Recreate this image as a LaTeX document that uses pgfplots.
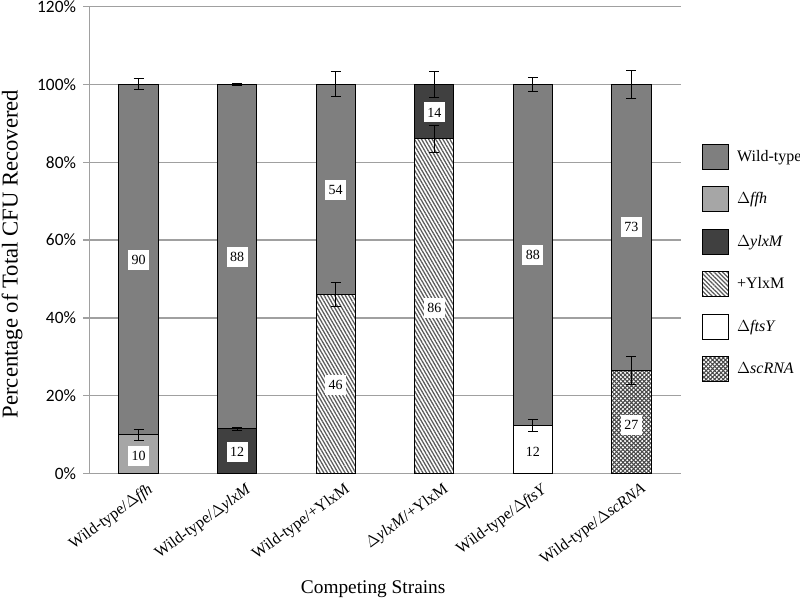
\documentclass[border=0pt]{standalone}
\usepackage{pgfplots}
\pgfplotsset{compat=1.18}
\usepackage{fontspec}
\setmainfont{Liberation Serif}
\newfontfamily\tickfont{Carlito}
\usetikzlibrary{patterns.meta}
\pgfdeclarepattern{name=scrna, type=uncolored,
  bottom left={\pgfpoint{-0.5pt}{-0.5pt}}, top right={\pgfpoint{3.7pt}{3.7pt}},
  tile size={\pgfpoint{3.2pt}{3.2pt}},
  code={\pgfsetlinewidth{0.75pt}
    \pgfpathmoveto{\pgfpoint{-0.5pt}{-0.5pt}}\pgfpathlineto{\pgfpoint{3.7pt}{3.7pt}}
    \pgfpathmoveto{\pgfpoint{-0.5pt}{3.7pt}}\pgfpathlineto{\pgfpoint{3.7pt}{-0.5pt}}
    \pgfusepath{stroke}}}
\definecolor{wt}{HTML}{7F7F7F}
\definecolor{ffh}{HTML}{A6A6A6}
\definecolor{ylx}{HTML}{404040}
\definecolor{hatchc}{HTML}{5A5A5A}
\definecolor{scr}{HTML}{4A4A4A}
\definecolor{gridc}{HTML}{A0A0A0}
\tikzset{
  wtS/.style={fill=wt, draw=black, line width=0.75pt},
  ffhS/.style={fill=ffh, draw=black, line width=0.75pt},
  ylxS/.style={fill=ylx, draw=black, line width=0.75pt},
  plusS/.style={fill=white, draw=black, line width=0.75pt, postaction={pattern={Lines[angle=-60,distance=2.3pt,line width=0.95pt]}, pattern color=hatchc}},
  plusL/.style={fill=white, draw=black, line width=0.75pt, postaction={pattern={Lines[angle=-45,distance=2.3pt,line width=0.95pt]}, pattern color=hatchc}},
  ftsS/.style={fill=white, draw=black, line width=0.75pt},
  scrS/.style={fill=white, draw=black, line width=0.75pt, postaction={pattern=scrna, pattern color=scr}},
}
\pgfplotsset{myleg/.style={legend image code/.code={\draw[##1] (0pt,-9.4pt) rectangle (19.5pt,9.4pt);}}}

\pgfplotstableread{
x ffh ylxb plus fts scr wt ylxt
0 10  0    0    0    0    90   0
1 0   11.5 0    0    0    88.5 0
2 0   0    46   0    0    54   0
3 0   0    86   0    0    0    14
4 0   0    0    12.3 0    87.7 0
5 0   0    0    0    26.6 73.4 0
}\stacktab

\pgfplotstableread{
x y lab
0 4.6 10
0 55 90
1 5.5 12
1 55.75 88
2 22.8 46
2 73 54
3 42.6 86
3 92.8 14
4 5.5 12
4 56.15 88
5 12.5 27
5 63.3 73
}\labtab

\pgfplotstableread{
x y err
0 10 1.4
0 100 1.4
1 11.5 0.4
1 100 0.3
2 46 3.1
2 100 3.2
3 86 3.5
3 100 3.4
4 12.3 1.6
4 100 1.9
5 26.6 3.6
5 100 3.5
}\errtab

\begin{document}
\begin{tikzpicture}
\useasboundingbox (-67pt,-94pt) rectangle (533pt,355.2pt);
\begin{axis}[
  at={(0,0)}, anchor=south west, scale only axis,
  width=443.5pt, height=350.25pt,
  ybar stacked, bar width=0.4,
  xmin=-0.5, xmax=5.5, ymin=0, ymax=120,
  xtick={0,1,2,3,4,5},
  xticklabels={Wild-type/$\Delta$\textit{ffh}, Wild-type/$\Delta$\textit{ylxM}, Wild-type/+YlxM, $\Delta$\textit{ylxM}/+YlxM, Wild-type/$\Delta$\textit{ftsY}, Wild-type/$\Delta$\textit{scRNA}},
  xticklabel style={font=\fontsize{12}{14}\selectfont, rotate=36, anchor=north east, inner sep=0pt, xshift=4pt, yshift=-5pt},
  x tick style={draw=none},
  ytick={0,20,40,60,80,100,120},
  /pgf/number format/assume math mode=true,
  yticklabel={\pgfmathprintnumber{\tick}\%},
  yticklabel style={font=\tickfont\fontsize{13}{15}\selectfont, xshift=-2pt},
  tick align=outside, major tick length=4.5pt,
  y tick style={gridc, line width=0.9pt},
  ymajorgrids, grid style={gridc, line width=0.9pt},
  axis x line*=bottom, axis y line*=left,
  axis line style={gridc, line width=0.9pt},
  xlabel={Competing Strains},
  xlabel style={font=\fontsize{14.5}{16}\selectfont, at={(axis description cs:0.48,0)}, anchor=center, yshift=-86.5pt},
  ylabel={Percentage of Total CFU Recovered},
  ylabel style={font=\fontsize{17}{19}\selectfont, at={(axis description cs:-0.1308,0.47)}, anchor=center, rotate=0},
  legend cell align=left,
  legend style={at={(axis description cs:1.036,0.707)}, anchor=north west, draw=none, fill=none,
    inner sep=0pt, row sep=12.3pt, column sep=3.75pt,
    font=\fontsize{12}{14}\selectfont},
]
\addlegendimage{myleg, wtS}\addlegendentry{Wild-type}
\addlegendimage{myleg, ffhS}\addlegendentry{$\Delta$\textit{ffh}}
\addlegendimage{myleg, ylxS}\addlegendentry{$\Delta$\textit{ylxM}}
\addlegendimage{myleg, plusL}\addlegendentry{+YlxM}
\addlegendimage{myleg, ftsS}\addlegendentry{$\Delta$\textit{ftsY}}
\addlegendimage{myleg, scrS}\addlegendentry{$\Delta$\textit{scRNA}}
\addplot[ffhS] table[x=x, y=ffh] {\stacktab};
\addplot[ylxS] table[x=x, y=ylxb] {\stacktab};
\addplot[plusS] table[x=x, y=plus] {\stacktab};
\addplot[ftsS] table[x=x, y=fts] {\stacktab};
\addplot[scrS] table[x=x, y=scr] {\stacktab};
\addplot[wtS] table[x=x, y=wt] {\stacktab};
\addplot[ylxS] table[x=x, y=ylxt] {\stacktab};
\end{axis}
\begin{axis}[
  at={(0,0)}, anchor=south west, scale only axis,
  width=443.5pt, height=350.25pt,
  xmin=-0.5, xmax=5.5, ymin=0, ymax=120,
  hide axis,
]
\addplot[only marks, mark=*, mark size=0pt, mark options={draw=none, fill=none},
  nodes near coords, point meta=explicit symbolic,
  nodes near coords style={anchor=center, fill=white, font=\fontsize{10.5}{12}\selectfont,
    text height=7pt, text depth=0pt, inner xsep=2.7pt, inner ysep=4pt}]
  table[x=x, y=y, meta=lab] {\labtab};
\addplot[draw=none, mark=none,
  error bars/.cd, y dir=both, y explicit,
  error bar style={draw=black, solid, line width=0.75pt},
  error mark options={draw=black, rotate=90, mark size=3.75pt, line width=0.75pt}]
  table[x=x, y=y, y error=err] {\errtab};
\end{axis}
\end{tikzpicture}
\end{document}
